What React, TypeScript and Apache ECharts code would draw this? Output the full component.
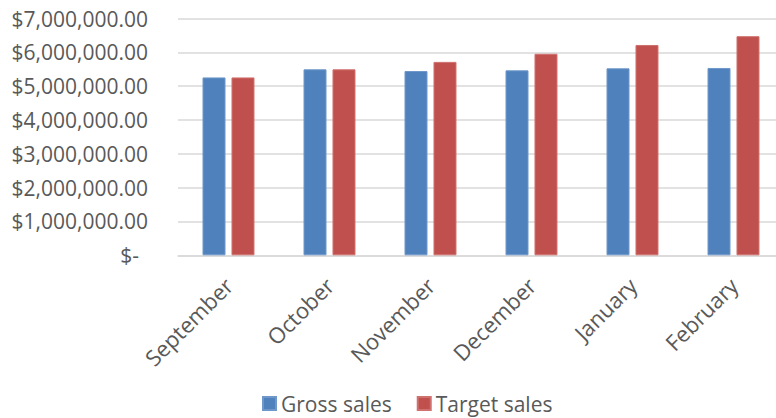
import React, { useEffect, useRef } from "react";
import * as echarts from "echarts";

const categories = ["September", "October", "November", "December", "January", "February"];
const grossSales = [5260000, 5500000, 5450000, 5470000, 5530000, 5540000];
const targetSales = [5260000, 5500000, 5720000, 5960000, 6220000, 6480000];
const seriesNames = ["Gross sales", "Target sales"];

const FONT = "'Open Sans', sans-serif";
const TEXT = "#595959";

function fmt(v: number): string {
  if (v === 0) return "{z|$-}";
  const s = v.toLocaleString("en-US", { minimumFractionDigits: 2, maximumFractionDigits: 2 });
  return "$" + s;
}

export default function App() {
  const ref = useRef<HTMLDivElement>(null);
  useEffect(() => {
    if (!ref.current) return;
    const chart = echarts.init(ref.current, null, { renderer: "svg" });
    chart.setOption({
      animation: false,
      backgroundColor: "#ffffff",
      grid: { left: 178, right: 0, top: 18.6, bottom: 162.7, containLabel: false },
      legend: {
        data: seriesNames,
        left: 262,
        top: 393,
        padding: 0,
        itemWidth: 13,
        itemHeight: 13,
        itemGap: 25,
        icon: "rect",
        textStyle: {
          color: TEXT,
          fontSize: 21,
          lineHeight: 20,
          fontFamily: FONT,
          padding: [0, 0, 0, 0],
        },
      },
      xAxis: {
        type: "category",
        data: categories,
        axisLine: { show: true, lineStyle: { color: "#d9d9d9", width: 1.5 } },
        axisTick: { show: false },
        axisLabel: {
          rotate: 45,
          margin: 26,
          interval: 0,
          color: TEXT,
          fontSize: 22,
          fontFamily: FONT,
        },
      },
      yAxis: {
        type: "value",
        min: 0,
        max: 7000000,
        interval: 1000000,
        axisLine: { show: false },
        axisTick: { show: false },
        splitLine: { lineStyle: { color: "#d9d9d9", width: 1.5 } },
        axisLabel: {
          margin: 30,
          color: TEXT,
          fontSize: 21,
          fontFamily: FONT,
          formatter: fmt,
          rich: { z: { color: TEXT, fontSize: 21, fontFamily: FONT, padding: [0, 9, 0, 0] } },
        },
      },
      series: [
        {
          name: seriesNames[0],
          type: "bar",
          data: grossSales,
          barWidth: 23,
          barGap: "26%",
          itemStyle: { color: "#4F81BD", borderColor: "#6f97c9", borderWidth: 1 },
        },
        {
          name: seriesNames[1],
          type: "bar",
          data: targetSales,
          barWidth: 23,
          barGap: "26%",
          itemStyle: { color: "#C0504D", borderColor: "#cf716e", borderWidth: 1 },
        },
      ],
    });
    return () => chart.dispose();
  }, []);
  return (
    <div
      style={{
        position: "absolute",
        left: 0,
        top: 0,
        width: 776,
        height: 418,
        overflow: "hidden",
      }}
    >
      <div ref={ref} style={{ width: 784, height: 418 }} />
    </div>
  );
}
